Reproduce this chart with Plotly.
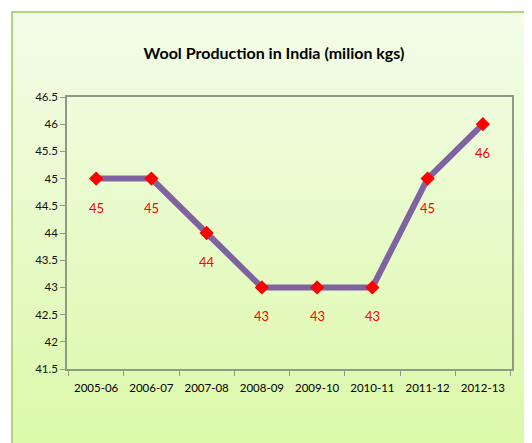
import plotly.graph_objects as go

# data
years = ["2005-06", "2006-07", "2007-08", "2008-09", "2009-10", "2010-11", "2011-12", "2012-13"]
production = [45, 45, 44, 43, 43, 43, 45, 46]
y_ticks = [41.5, 42, 42.5, 43, 43.5, 44, 44.5, 45, 45.5, 46, 46.5]

# the page body adds an 8px margin, so the figure is 8px smaller each way
W, H = 524, 435
L, R, T, B = 59, 20, 89, 74
PW, PH = W - L - R, H - T - B
FONT = "Lato, Carlito, 'Open Sans', sans-serif"

# gradient background of the chart area (Excel-style light green)
grad_svg = (
    "data:image/svg+xml;utf8,"
    "<svg xmlns='http://www.w3.org/2000/svg' width='100' height='100' preserveAspectRatio='none'>"
    "<defs><linearGradient id='g' x1='0' y1='0' x2='0' y2='1'>"
    "<stop offset='0' stop-color='%23f3fde9'/>"
    "<stop offset='1' stop-color='%23dbf8a6'/>"
    "</linearGradient></defs>"
    "<rect width='100' height='100' fill='url(%23g)'/></svg>"
)

# chart box in figure pixels -> paper coords
bx0, by0 = 4, 4
bx1, by1 = W + 20, H + 20
px = lambda v: (v - L) / PW
py = lambda v: 1 - (v - T) / PH

fig = go.Figure()

fig.add_trace(go.Scatter(
    x=years, y=production,
    mode="lines+markers",
    line=dict(color="#7f63a1", width=6),
    marker=dict(symbol="diamond", size=11, color="#ff0000"),
    showlegend=False,
    hoverinfo="x+y",
))

# data labels under the points
for yr, v in zip(years, production):
    fig.add_annotation(
        x=yr, y=v, text=str(v), showarrow=False,
        yshift=-29, font=dict(family=FONT, size=13, color="#ff0000"),
    )

fig.update_layout(
    width=W, height=H,
    margin=dict(l=L, r=R, t=T, b=B, autoexpand=False),
    paper_bgcolor="white",
    plot_bgcolor="rgba(0,0,0,0)",
    font=dict(family=FONT, size=12, color="#222222"),
    title=dict(
        text="<b>Wool Production in India (milion kgs)</b>",
        x=266 / W, xanchor="center", xref="container",
        y=1 - 45 / H, yanchor="middle", yref="container",
        font=dict(family=FONT, size=16, color="#000000"),
    ),
    images=[dict(
        source=grad_svg, xref="paper", yref="paper",
        x=px(bx0), y=py(by0),
        sizex=px(bx1) - px(bx0), sizey=py(by0) - py(by1),
        sizing="stretch", layer="below", xanchor="left", yanchor="top",
    )],
    shapes=[dict(
        type="rect", xref="paper", yref="paper", layer="below",
        x0=px(bx0), x1=px(bx1), y0=py(by0), y1=py(by1),
        line=dict(color="#b2d47c", width=2), fillcolor="rgba(0,0,0,0)",
    )],
)

fig.update_xaxes(
    type="category", showgrid=False, automargin=False, tickangle=0,
    showline=True, linecolor="#8f9a86", linewidth=1.5, mirror=True,
    ticks="outside", ticklen=5, tickcolor="#8f9a86", tickson="boundaries",
    ticklabelstandoff=7,
    tickfont=dict(family=FONT, size=11.5, color="#000000"),
)
fig.update_yaxes(
    range=[41.5, 46.5], tickvals=y_ticks, ticktext=[f"{t:g}" for t in y_ticks],
    showgrid=False, zeroline=False, automargin=False,
    showline=True, linecolor="#8f9a86", linewidth=1.5, mirror=True,
    ticks="outside", ticklen=5, tickcolor="#8f9a86",
    tickfont=dict(family=FONT, size=11.5, color="#111111"),
)

fig.write_html("out.html")
